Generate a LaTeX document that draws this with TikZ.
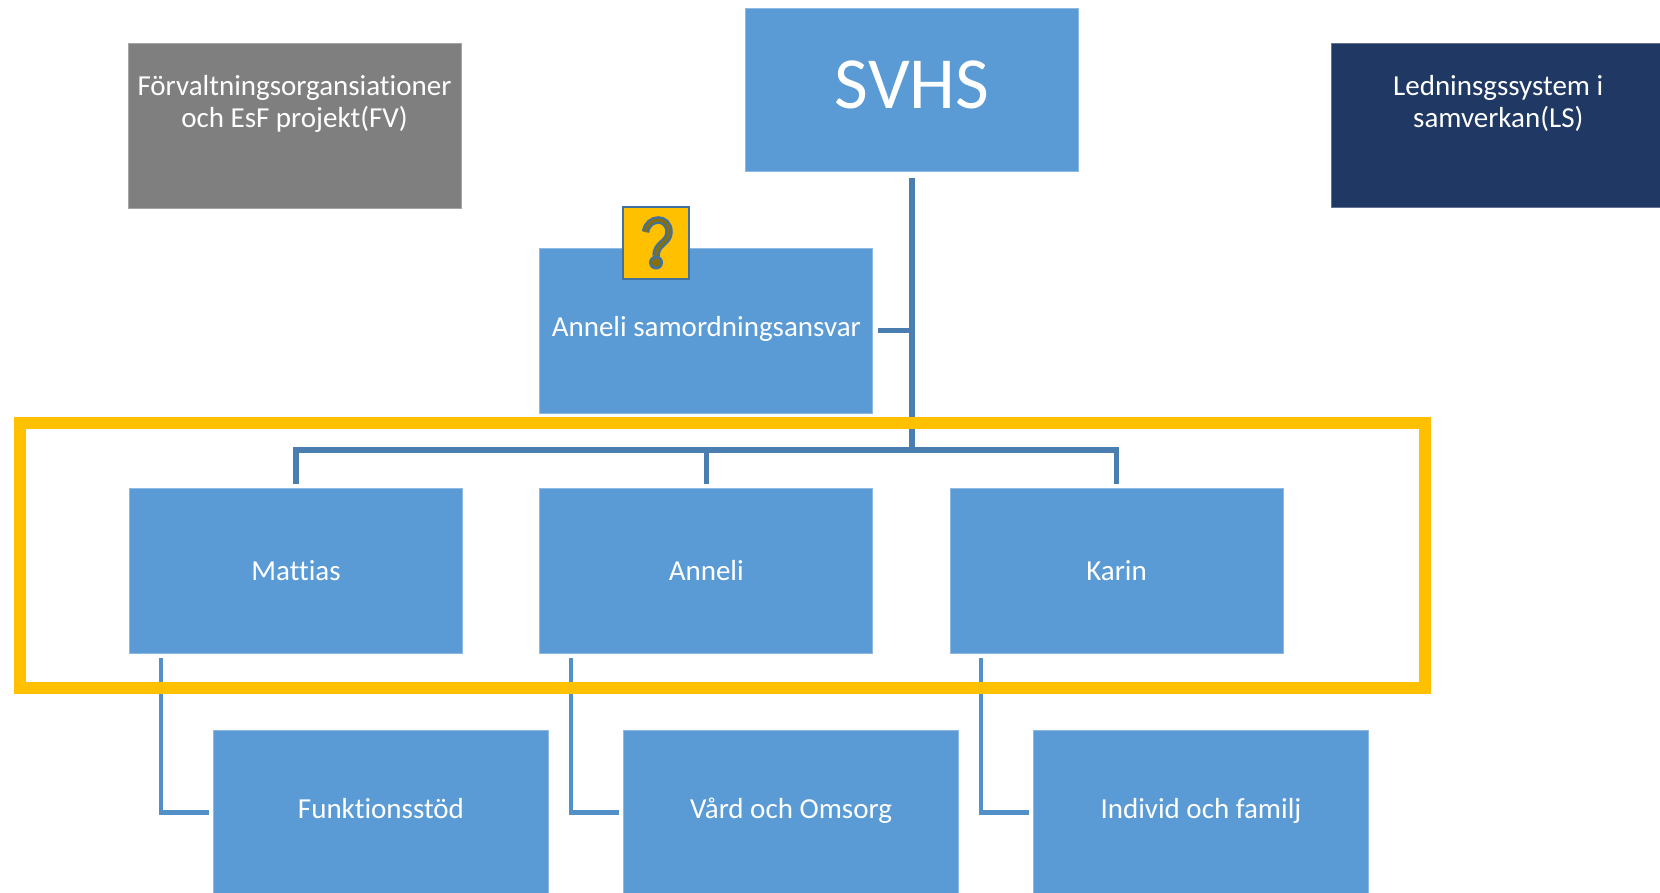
\documentclass[tikz,border=0pt]{standalone}
\usepackage{fontspec}
\setmainfont{Carlito}[Ligatures=NoCommon]
\usetikzlibrary{calc}
\definecolor{boxblue}{HTML}{5B9BD5}
\definecolor{boxedge}{HTML}{8DB9E3}
\definecolor{connblue}{HTML}{4A7EB0}
\definecolor{lowerconn}{HTML}{5490C8}
\definecolor{fvgrey}{HTML}{7F7F7F}
\definecolor{lsnavy}{HTML}{1F3864}
\definecolor{goldy}{HTML}{FFC000}
\definecolor{olivey}{HTML}{8B7000}
\definecolor{qedge}{HTML}{41719C}
\tikzset{
  x=1pt,y=-1pt,
  orgbox/.style={rectangle,fill=boxblue,draw=boxedge,line width=0.8pt,minimum width=333pt,minimum height=165pt,inner sep=0pt,text=white,font=\fontsize{29}{32.3}\selectfont,align=center},
  lowbox/.style={orgbox,minimum width=335pt},
  conn/.style={draw=connblue,line width=5.6pt,line join=miter},
  lowconn/.style={draw=lowerconn,line width=4.6pt,line join=miter},
  frameline/.style={draw=goldy,line width=12pt},
  qbox/.style={rectangle,fill=goldy,draw=qedge,line width=2pt,minimum width=66.5pt,minimum height=72.5pt,inner sep=0pt},
}
\newcommand{\lift}[2]{\raisebox{#1pt}[0pt][0pt]{\begin{tabular}[t]{@{}c@{}}#2\end{tabular}}}
\newcommand{\one}[2]{\raisebox{#1pt}[0pt][0pt]{#2}}
\begin{document}
\begin{tikzpicture}
\useasboundingbox (0,0) rectangle (1660,892);
\clip (0,0) rectangle (1660,892);
\fill[white] (0,0) rectangle (1660,892);
\node[orgbox,minimum height=163.5pt,font=\fontsize{73.5}{80}\selectfont] (svhs) at (912,90) {\one{-18}{SVHS}};
\node[orgbox,fill=fvgrey,draw=fvgrey!70!white] (fv) at (294.5,126) {\lift{30.5}{Förvaltningsorgansiationer\\och EsF projekt(FV)}};
\node[orgbox,fill=lsnavy,draw=lsnavy!70!white,minimum width=345pt,minimum height=163.5pt] (ls) at (1503.5,125.5) {\hspace*{-10.5pt}\lift{30.5}{Ledninsgssystem i\\samverkan(LS)}};
\node[orgbox] (samord) at (706.3,330.5) {\one{-6.2}{Anneli samordningsansvar}};
\node[orgbox] (mattias) at (296,571) {\one{-9}{Mattias}};
\node[orgbox] (anneli) at (706.3,571) {\one{-9}{Anneli}};
\node[orgbox] (karin) at (1116.5,571) {\one{-9}{Karin}};
\node[lowbox] (funk) at (381,812.5) {\one{-6}{Funktionsstöd}};
\node[lowbox] (vard) at (791,812.5) {\one{-6}{Vård och Omsorg}};
\node[lowbox] (indiv) at (1201,812.5) {\one{-6}{Individ och familj}};
\coordinate (hub) at (912,450);
\draw[conn,shorten <=5.5pt,shorten >=-3pt] (svhs.south) -- (hub);
\draw[conn,shorten >=4.5pt] (hub |- samord.east) -- (samord.east);
\draw[conn,shorten >=4.5pt] (hub) -| (mattias.north);
\draw[conn,shorten >=4.5pt] (hub) -| (karin.north);
\draw[conn,shorten >=4.5pt] (hub -| anneli.north) -- (anneli.north);
\draw[lowconn,shorten <=4.5pt,shorten >=4.5pt] (mattias.south -| 161,0) |- (funk.west);
\draw[lowconn,shorten <=4.5pt,shorten >=4.5pt] (anneli.south -| 571,0) |- (vard.west);
\draw[lowconn,shorten <=4.5pt,shorten >=4.5pt] (karin.south -| 981,0) |- (indiv.west);
\draw[frameline] (20,423) rectangle (1425,688);
\node[qbox] (help) at (656,243) {};
\draw[qedge,line width=7.5pt] (645.5,232) .. controls (648,216) and (669,216) .. (669,232) .. controls (669,243) and (656,243) .. (656,256);
\fill[qedge] (656,262.5) circle (7);
\draw[olivey,line width=2.8pt] (645.5,232) .. controls (648,216) and (669,216) .. (669,232) .. controls (669,243) and (656,243) .. (656,256);
\fill[olivey] (656,262.5) circle (4.2);
\end{tikzpicture}
\end{document}
